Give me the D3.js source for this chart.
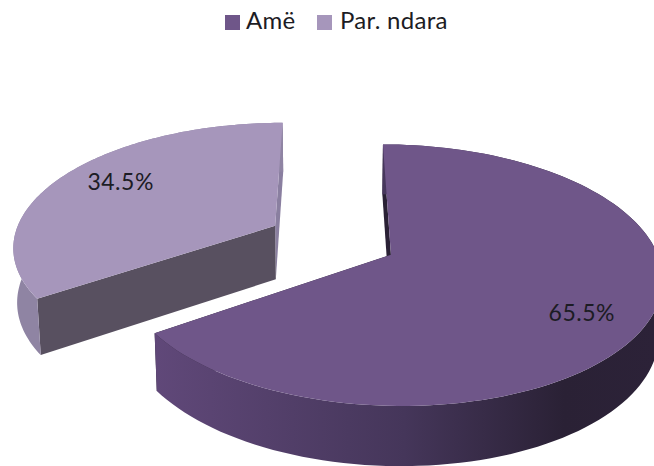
<!DOCTYPE html>
<html>
<head>
<meta charset="utf-8">
<script src="https://cdn.jsdelivr.net/npm/d3@7/dist/d3.min.js"></script>
<style>
html, body { margin: 0; padding: 0; background: #fff; overflow: hidden; }
svg { display: block; }
text { font-family: Lato, "Open Sans", sans-serif; fill: #1c1c24; }
</style>
</head>
<body>
<script>
const width = 654;
const height = 466;

const categories = ["Amë", "Par. ndara"];
const values = [65.5, 34.5];
const topColors = ["#6f5689", "#a696bb"];
const faceColors = ["#2a2135", "#8a7fa0"];
const frontFaceColors = ["#2a2135", "#585060"];
const rimColors = ["url(#rimBig)", "#8f84a3"];
const labelRadius = [0.78, 0.76];
const labelAngle = [122.6, 301.8];

// perspective of the tilted pie
const cx = 332, cy = 240;
const radiusX = 262, radiusY = 123;
const persp = 0.154;
const horizon = radiusY / persp;
const depth = 54;
const explode = 0.25;

const svg = d3.select("body")
    .append("svg")
    .attr("width", width)
    .attr("height", height);

const grad = svg.append("defs").append("linearGradient")
    .attr("id", "rimBig")
    .attr("gradientUnits", "userSpaceOnUse")
    .attr("x1", 155).attr("x2", 654)
    .attr("y1", 0).attr("y2", 0);
grad.append("stop").attr("offset", "0%").attr("stop-color", "#604879");
grad.append("stop").attr("offset", "50%").attr("stop-color", "#45365a");
grad.append("stop").attr("offset", "82%").attr("stop-color", "#2a2135");
grad.append("stop").attr("offset", "100%").attr("stop-color", "#2c2238");

const pie = d3.pie().sort(null).startAngle(0).endAngle(2 * Math.PI);
const slices = pie(values);
const line = d3.line();

// ground plane point -> screen, level 0 is the top surface, 1 the bottom
function project(u, v, level) {
    const w = 1 + persp * v;
    const x = cx + radiusX * u / w * (level ? 0.988 : 1);
    const y = cy - horizon + horizon / w + level * depth / (1 + 0.6 * persp * v);
    return [x, y];
}

function ground(d, angle, r) {
    const mid = (d.startAngle + d.endAngle) / 2;
    return [
        explode * Math.sin(mid) + r * Math.sin(angle),
        explode * Math.cos(mid) + r * Math.cos(angle)
    ];
}

function rim(d, level) {
    return d3.range(0, 121).map(i => {
        const a = d.startAngle + (d.endAngle - d.startAngle) * i / 120;
        const g = ground(d, a, 1);
        return project(g[0], g[1], level);
    });
}

function edge(d, angle) {
    const apex = ground(d, angle, 0);
    const end = ground(d, angle, 1);
    return [
        project(apex[0], apex[1], 0),
        project(end[0], end[1], 0),
        project(end[0], end[1], 1),
        project(apex[0], apex[1], 1)
    ];
}

// small slice first, it sits behind the big one
[1, 0].forEach(i => {
    const d = slices[i];
    const g = svg.append("g");

    g.append("path")
        .attr("d", line(edge(d, d.endAngle)) + "Z")
        .attr("fill", faceColors[i]);

    g.append("path")
        .attr("d", line(edge(d, d.startAngle)) + "Z")
        .attr("fill", frontFaceColors[i]);

    g.append("path")
        .attr("d", line(rim(d, 0).concat(rim(d, 1).reverse())) + "Z")
        .attr("fill", rimColors[i]);

    const apex = ground(d, 0, 0);
    g.append("path")
        .attr("d", line([project(apex[0], apex[1], 0)].concat(rim(d, 0))) + "Z")
        .attr("fill", topColors[i]);
});

function labelPoint(d, i) {
    const g = ground(d, labelAngle[i] * Math.PI / 180, labelRadius[i]);
    return project(g[0], g[1], 0);
}

svg.selectAll(".lbl")
    .data(slices)
    .enter()
    .append("text")
    .attr("class", "lbl")
    .attr("font-size", 23)
    .attr("letter-spacing", 0.5)
    .attr("text-anchor", "middle")
    .attr("dominant-baseline", "central")
    .attr("x", (d, i) => labelPoint(d, i)[0] - 1)
    .attr("y", (d, i) => labelPoint(d, i)[1])
    .text(d => d.value.toFixed(1) + "%");

const legendX = d3.scaleOrdinal().domain(categories).range([225, 317]);
const legend = svg.selectAll(".key")
    .data(categories)
    .enter()
    .append("g")
    .attr("class", "key")
    .attr("transform", d => `translate(${legendX(d)},15)`);

legend.append("rect")
    .attr("width", 15)
    .attr("height", 15)
    .attr("fill", (d, i) => topColors[i]);

legend.append("text")
    .attr("x", (d, i) => i ? 23 : 21)
    .attr("y", 13.5)
    .attr("font-size", 24)
    .attr("letter-spacing", 0.3)
    .text(d => d);
</script>
</body>
</html>
